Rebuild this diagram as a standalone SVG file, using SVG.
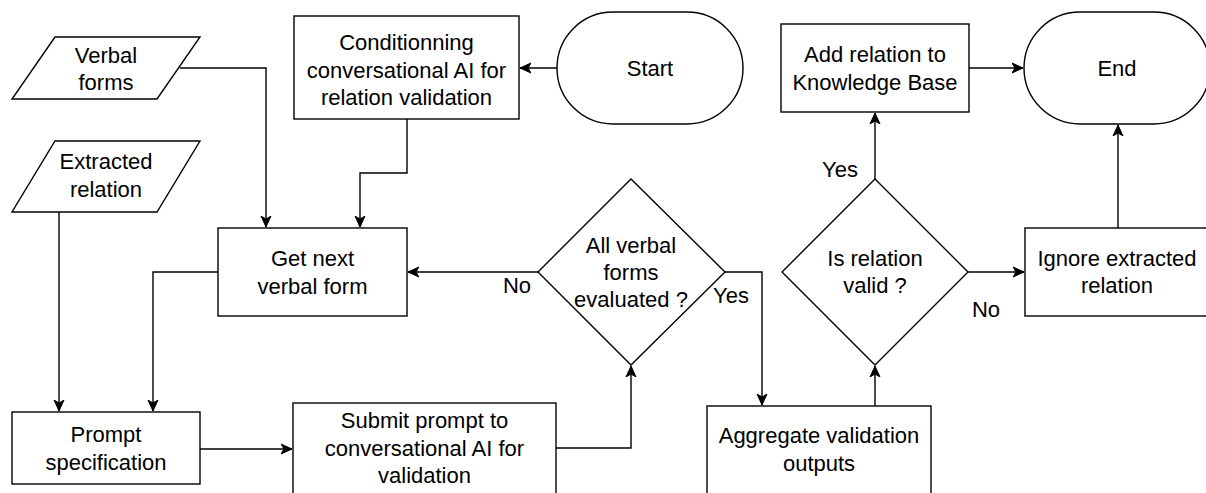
<svg xmlns="http://www.w3.org/2000/svg" width="1206" height="493" viewBox="0 0 1206 493">
<style>
.s{fill:#fff;stroke:#000;stroke-width:1.4}
.t{font-family:"Liberation Sans",Arial,sans-serif;font-size:22px;fill:#000;text-anchor:middle}
.c{fill:none;stroke:#000;stroke-width:1.4}
</style>
<defs>
<marker id="a" markerUnits="userSpaceOnUse" markerWidth="12" markerHeight="12" viewBox="0 0 12 12" refX="11" refY="6" orient="auto">
<path d="M0,1 L11,6 L0,11 L3,6 Z" fill="#000" stroke="#000" stroke-width="1"/>
</marker>
</defs>
<rect width="1206" height="493" fill="#fff"/>
<g id="connectors">
<path class="c" d="M557,68 H520" marker-end="url(#a)"/>
<path class="c" d="M180,68 H266 V227" marker-end="url(#a)"/>
<path class="c" d="M407,119 V173 H360 V227" marker-end="url(#a)"/>
<path class="c" d="M59,212 V411" marker-end="url(#a)"/>
<path class="c" d="M218,272 H153 V411" marker-end="url(#a)"/>
<path class="c" d="M200,449 H292" marker-end="url(#a)"/>
<path class="c" d="M556,448 H631 V366" marker-end="url(#a)"/>
<path class="c" d="M538,272 H408" marker-end="url(#a)"/>
<path class="c" d="M725,272 H762 V405" marker-end="url(#a)"/>
<path class="c" d="M875,406 V366" marker-end="url(#a)"/>
<path class="c" d="M875,179 V113" marker-end="url(#a)"/>
<path class="c" d="M969,68 H1023" marker-end="url(#a)"/>
<path class="c" d="M968,272 H1024" marker-end="url(#a)"/>
<path class="c" d="M1118,228 V125" marker-end="url(#a)"/>
<text class="t" x="517" y="293">No</text>
<text class="t" x="731" y="303">Yes</text>
<text class="t" x="986" y="317">No</text>
<text class="t" x="840" y="177">Yes</text>
</g>
<g id="start">
<rect class="s" x="557" y="12" width="186" height="112" rx="56" ry="56"/>
<text class="t" x="650" y="76">Start</text>
</g>
<g id="conditioning">
<rect class="s" x="294" y="16" width="225" height="103"/>
<text class="t" x="406.5" y="50">Conditionning</text>
<text class="t" x="406.5" y="77.5">conversational AI for</text>
<text class="t" x="406.5" y="105">relation validation</text>
</g>
<g id="verbal-forms">
<polygon class="s" points="55,37 200,37 157,99 12,99"/>
<text class="t" x="106" y="62.5">Verbal</text>
<text class="t" x="106" y="90">forms</text>
</g>
<g id="extracted-relation">
<polygon class="s" points="55,141 200,141 157,212 12,212"/>
<text class="t" x="106" y="169">Extracted</text>
<text class="t" x="106" y="197">relation</text>
</g>
<g id="get-next">
<rect class="s" x="218" y="228" width="189" height="88"/>
<text class="t" x="312.5" y="266">Get next</text>
<text class="t" x="312.5" y="294">verbal form</text>
</g>
<g id="prompt-spec">
<rect class="s" x="12" y="412" width="188" height="72"/>
<text class="t" x="106" y="442">Prompt</text>
<text class="t" x="106" y="469.5">specification</text>
</g>
<g id="submit">
<rect class="s" x="293" y="403" width="263" height="92"/>
<text class="t" x="424.5" y="428">Submit prompt to</text>
<text class="t" x="424.5" y="456">conversational AI for</text>
<text class="t" x="424.5" y="483">validation</text>
</g>
<g id="all-evaluated">
<polygon class="s" points="631,179 725,272 631,365 538,272"/>
<text class="t" x="631" y="252.5">All verbal</text>
<text class="t" x="631" y="279.5">forms</text>
<text class="t" x="631" y="306.5">evaluated ?</text>
</g>
<g id="aggregate">
<rect class="s" x="707" y="406" width="224" height="90"/>
<text class="t" x="819" y="443">Aggregate validation</text>
<text class="t" x="819" y="471">outputs</text>
</g>
<g id="is-valid">
<polygon class="s" points="875,179 968,272 875,365 782,272"/>
<text class="t" x="875" y="266">Is relation</text>
<text class="t" x="875" y="293">valid ?</text>
</g>
<g id="add-relation">
<rect class="s" x="781" y="24" width="188" height="88"/>
<text class="t" x="875" y="61.5">Add relation to</text>
<text class="t" x="875" y="89.5">Knowledge Base</text>
</g>
<g id="ignore">
<rect class="s" x="1025" y="228" width="189" height="88"/>
<text class="t" x="1117" y="265.5">Ignore extracted</text>
<text class="t" x="1117" y="293">relation</text>
</g>
<g id="end">
<rect class="s" x="1024" y="12" width="186" height="112" rx="56" ry="56"/>
<text class="t" x="1117" y="75.5">End</text>
</g>
</svg>
